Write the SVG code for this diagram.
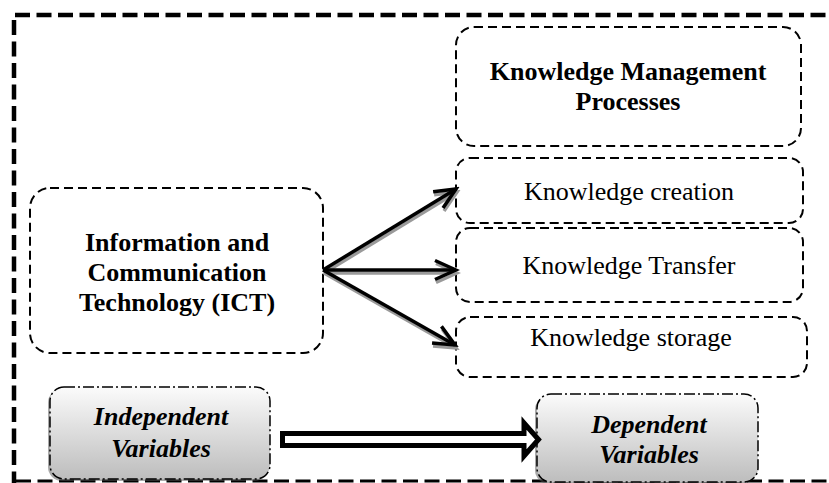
<svg xmlns="http://www.w3.org/2000/svg" width="829" height="483" viewBox="0 0 829 483">
<defs>
<style>
.frame{fill:none;stroke:#000;stroke-width:4.5;stroke-dasharray:15 6.5}
.box{fill:#fff;stroke:#000;stroke-width:2;stroke-dasharray:9 5}
.var{fill:url(#g);stroke:#000;stroke-width:1.5;stroke-dasharray:11 3 2 3}
.shd{fill:#555;opacity:0.5}
text{font-family:'Liberation Serif','Times New Roman','DejaVu Serif',serif;font-size:26px;fill:#000;text-anchor:middle}
.b{font-weight:bold}
.bi{font-weight:bold;font-style:italic}
.ln{fill:none;stroke:#000;stroke-width:3.5;marker-end:url(#ah)}
.sh{fill:none;stroke:#9a9a9a;stroke-width:3.5;marker-end:url(#ahs)}
</style>
<linearGradient id="g" x1="0" y1="0" x2="0" y2="1">
<stop offset="0" stop-color="#fbfbfb"/>
<stop offset="1" stop-color="#bdbdbd"/>
</linearGradient>
<marker id="ah" viewBox="-3 -3 28 26" refX="21" refY="9.5" markerWidth="28" markerHeight="26" markerUnits="userSpaceOnUse" orient="auto">
<path d="M0,0 L21,9.5 L0,19" fill="none" stroke="#000" stroke-width="3.5" stroke-linejoin="miter"/>
</marker>
<marker id="ahs" viewBox="-3 -3 28 26" refX="21" refY="9.5" markerWidth="28" markerHeight="26" markerUnits="userSpaceOnUse" orient="auto">
<path d="M0,0 L21,9.5 L0,19" fill="none" stroke="#9a9a9a" stroke-width="3.5" stroke-linejoin="miter"/>
</marker>
</defs>
<rect width="829" height="483" fill="#fff"/>
<g id="frame">
<path class="frame" d="M15,15 H840"/>
<path class="frame" d="M14,20 V483"/>
<path class="frame" d="M16,481 H840" style="stroke-width:3"/>
</g>
<g id="ict">
<rect class="box" x="30" y="188" width="293" height="165" rx="20"/>
<text class="b" x="177" y="251" font-family="Liberation Serif, serif">Information and</text>
<text class="b" x="177" y="281" font-family="Liberation Serif, serif">Communication</text>
<text class="b" x="177" y="311" font-family="Liberation Serif, serif">Technology (ICT)</text>
</g>
<g id="kmp">
<rect class="box" x="456" y="27" width="345" height="119" rx="18"/>
<text class="b" x="628" y="80" font-family="Liberation Serif, serif">Knowledge Management</text>
<text class="b" x="628" y="110" font-family="Liberation Serif, serif">Processes</text>
</g>
<g id="creation">
<rect class="box" x="456" y="158" width="347" height="65" rx="14"/>
<text x="629" y="200" font-family="Liberation Serif, serif">Knowledge creation</text>
</g>
<g id="transfer">
<rect class="box" x="456" y="228" width="347" height="74" rx="14"/>
<text x="629" y="274" font-family="Liberation Serif, serif">Knowledge Transfer</text>
</g>
<g id="storage">
<rect class="box" x="456" y="317" width="351" height="60" rx="14"/>
<text x="631" y="346" font-family="Liberation Serif, serif">Knowledge storage</text>
</g>
<g id="independent">
<rect class="shd" x="48" y="389" width="220" height="92" rx="14"/>
<rect class="var" x="50" y="387" width="220" height="92" rx="14"/>
<text class="bi" x="161" y="425" font-family="Liberation Serif, serif">Independent</text>
<text class="bi" x="161" y="457" font-family="Liberation Serif, serif">Variables</text>
</g>
<g id="dependent">
<rect class="shd" x="535" y="396" width="221" height="88" rx="14"/>
<rect class="var" x="537" y="394" width="221" height="88" rx="14"/>
<text class="bi" x="649" y="433" font-family="Liberation Serif, serif">Dependent</text>
<text class="bi" x="649" y="463" font-family="Liberation Serif, serif">Variables</text>
</g>
<g id="connectors">
<path class="sh" d="M324,273 L457,192"/>
<path class="sh" d="M324,273 L457,273"/>
<path class="sh" d="M324,273 L456,348"/>
<path class="ln" d="M323,270 L456,189"/>
<path class="ln" d="M323,270 L456,270"/>
<path class="ln" d="M323,270 L455,345"/>
<path d="M282.5,433.5 H524 V423 L538.5,439.5 L524,456 V445.5 H282.5 Z" fill="#fff" stroke="#000" stroke-width="5" stroke-linejoin="miter"/>
</g>
</svg>
